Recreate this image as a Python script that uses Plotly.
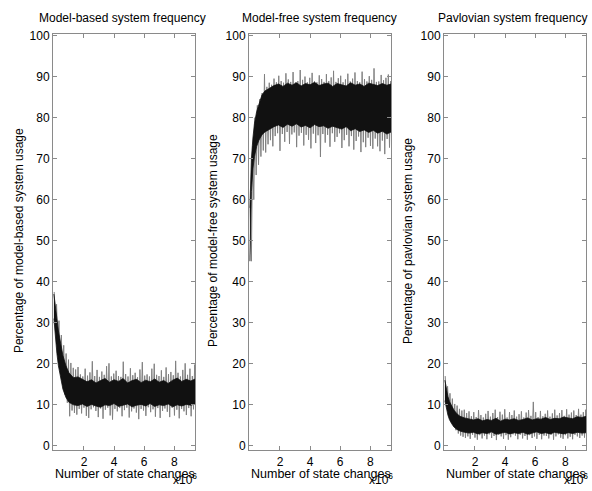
import numpy as np
import plotly.graph_objects as go

# ---------------- data (x in units of 10^6 state changes) ----------------
titles = ["Model-based system frequency", "Model-free system frequency", "Pavlovian system frequency"]
ylabels = ["Percentage of model-based system usage", "Percentage of model-free system usage",
           "Percentage of pavlovian system usage"]
xlabel = "Number of state changes"
x_ticks = [2, 4, 6, 8]
y_ticks = [0, 10, 20, 30, 40, 50, 60, 70, 80, 90, 100]

# sample positions for the noisy extremes (peaks and troughs)
spike_x = np.linspace(0.02, 9.36, 60)

mb_spike_hi = [37.5, 34.5, 30.5, 27.0, 24.5, 22.5, 21.0, 20.2, 19.0, 18.6,
               19.2, 17.4, 16.9, 18.8, 17.1, 17.9, 20.6, 17.0, 18.5, 16.8,
               18.1, 17.3, 19.4, 20.1, 16.9, 17.6, 18.3, 17.0, 16.8, 20.5,
               17.5, 16.9, 18.9, 17.2, 17.8, 16.7, 18.6, 20.4, 17.1, 17.4,
               16.9, 18.8, 20.0, 17.3, 17.0, 18.4, 16.8, 19.1, 17.5, 18.0,
               17.2, 20.7, 17.8, 16.9, 18.5, 20.1, 17.3, 18.8, 17.0, 19.8]
mb_spike_lo = [29.5, 24.0, 19.0, 15.5, 12.5, 10.5, 7.2, 8.6, 8.0, 7.6,
               9.0, 7.9, 9.3, 7.3, 6.8, 8.9, 9.4, 8.5, 7.0, 9.1,
               6.6, 8.8, 9.3, 7.4, 6.4, 9.0, 8.4, 9.2, 7.2, 8.7,
               9.3, 6.9, 8.4, 9.1, 8.1, 6.5, 9.0, 8.6, 7.3, 9.4,
               8.2, 8.9, 7.1, 9.2, 6.8, 8.5, 9.1, 8.3, 7.0, 9.3,
               7.4, 8.8, 6.7, 9.0, 8.4, 7.5, 9.2, 7.2, 8.9, 7.6]

mf_spike_hi = [58.0, 73.0, 80.0, 83.0, 84.5, 86.0, 90.6, 87.5, 88.5, 88.0,
               89.5, 88.6, 90.2, 88.9, 88.5, 90.8, 89.3, 88.7, 91.1, 88.6,
               88.9, 91.6, 89.2, 90.0, 88.6, 89.7, 90.9, 88.8, 88.6, 90.3,
               89.4, 88.7, 90.6, 88.9, 89.8, 91.4, 88.7, 89.6, 90.2, 88.6,
               89.3, 90.7, 88.8, 89.5, 91.0, 88.9, 88.6, 91.2, 89.4, 88.8,
               90.1, 89.2, 92.0, 88.7, 88.8, 90.4, 89.1, 89.7, 90.5, 88.9]
mf_spike_lo = [45.0, 60.0, 66.0, 68.5, 70.5, 72.0, 71.5, 73.5, 74.5, 73.0,
               75.5, 76.2, 71.9, 76.0, 74.1, 76.5, 73.6, 75.9, 76.4, 72.8,
               75.6, 76.3, 73.2, 75.8, 74.6, 72.5, 76.1, 73.8, 75.7, 70.4,
               76.0, 73.9, 75.8, 72.9, 76.2, 74.1, 75.3, 76.2, 72.6, 74.5,
               75.8, 73.0, 75.5, 72.2, 74.3, 75.4, 71.6, 74.0, 72.8, 75.1,
               73.1, 72.4, 74.9, 73.0, 71.8, 74.4, 71.1, 74.8, 72.7, 73.9]

pv_spike_hi = [17.0, 14.5, 12.8, 11.5, 10.2, 9.8, 9.0, 8.6, 8.8, 8.0,
               8.4, 7.2, 8.2, 7.0, 8.7, 7.5, 6.9, 7.8, 8.5, 7.1,
               8.0, 8.8, 7.0, 8.3, 7.6, 8.9, 6.9, 8.2, 7.5, 8.6,
               7.1, 7.7, 8.4, 6.9, 8.1, 8.7, 7.3, 10.7, 8.2, 7.0,
               8.5, 7.2, 7.8, 8.6, 7.1, 7.9, 8.8, 7.4, 8.0, 8.7,
               7.3, 8.9, 7.6, 8.1, 8.6, 7.5, 9.0, 7.6, 8.2, 8.8]
pv_spike_lo = [10.5, 7.8, 6.2, 4.8, 3.8, 3.0, 2.5, 2.2, 1.9, 2.3,
               1.7, 2.7, 2.0, 1.5, 2.6, 1.8, 2.5, 1.6, 2.8, 1.9,
               2.4, 1.4, 2.7, 2.3, 1.7, 2.6, 1.5, 2.1, 2.8, 2.5,
               1.6, 2.7, 1.8, 2.4, 1.5, 2.6, 1.9, 2.3, 1.7, 2.7,
               1.6, 2.5, 2.4, 1.8, 2.7, 1.5, 2.3, 2.8, 2.0, 1.7,
               2.6, 1.8, 2.2, 1.6, 2.7, 2.3, 1.9, 2.5, 2.0, 2.2]

# dense core of the noisy band
core_x = [0.0, 0.1, 0.2, 0.3, 0.45, 0.6, 0.8, 1.0, 1.3, 1.6, 1.9, 2.2, 2.5, 2.8, 3.1, 3.4,
          3.7, 4.0, 4.3, 4.6, 4.9, 5.2, 5.5, 5.8, 6.1, 6.4, 6.7, 7.0, 7.3, 7.6, 7.9, 8.2,
          8.5, 8.8, 9.1, 9.4]
mb_core_hi = [37.0, 34.5, 31.0, 28.0, 24.5, 22.0, 19.5, 17.8, 16.6, 16.8, 16.2, 15.6, 16.1, 15.3,
              15.9, 16.4, 15.5, 16.1, 15.7, 16.4, 15.3, 15.9, 16.2, 15.4, 16.0, 15.6, 16.3, 15.5,
              15.9, 15.2, 16.0, 16.5, 15.7, 16.2, 15.8, 16.3]
mb_core_lo = [31.0, 26.5, 22.5, 19.5, 16.5, 13.8, 11.8, 10.6, 10.0, 9.8, 10.2, 9.6, 10.1, 9.7,
              9.4, 10.0, 9.8, 10.3, 9.6, 9.9, 10.2, 9.5, 9.9, 10.1, 9.7, 10.3, 9.6, 10.0,
              9.8, 10.2, 9.5, 10.0, 9.7, 10.1, 9.9, 10.2]
mf_core_hi = [58.0, 70.0, 75.0, 78.5, 81.5, 83.5, 85.5, 86.5, 87.2, 87.8, 88.2, 87.6, 88.4, 87.9,
              88.5, 87.7, 88.3, 88.0, 88.6, 87.8, 88.2, 88.4, 87.6, 88.3, 88.0, 87.7, 88.5, 87.9,
              88.2, 87.6, 88.4, 88.1, 87.8, 88.3, 87.9, 88.2]
mf_core_lo = [45.0, 62.0, 67.5, 70.5, 73.0, 74.5, 75.8, 76.5, 77.2, 77.8, 78.2, 77.6, 78.4, 77.9,
              78.5, 77.7, 78.1, 77.5, 78.3, 77.8, 78.0, 77.4, 77.9, 77.6, 77.2, 77.8, 76.8, 77.3,
              76.6, 77.0, 76.4, 76.9, 76.2, 76.7, 76.0, 76.5]
pv_core_hi = [16.0, 13.5, 12.0, 10.8, 9.6, 8.7, 7.8, 7.2, 6.8, 6.5, 6.3, 6.6, 6.1, 6.4,
              6.2, 6.7, 6.0, 6.5, 6.3, 6.6, 6.2, 6.4, 6.8, 6.3, 6.6, 6.5, 6.9, 6.4,
              6.7, 6.6, 7.0, 6.8, 6.6, 7.1, 6.9, 7.2]
pv_core_lo = [11.0, 9.0, 7.5, 6.4, 5.4, 4.6, 4.0, 3.6, 3.3, 3.1, 3.3, 2.9, 3.2, 3.0,
              3.4, 2.8, 3.1, 3.3, 2.9, 3.2, 3.0, 3.3, 2.8, 3.1, 3.4, 3.0, 3.2, 2.9,
              3.3, 3.1, 2.9, 3.2, 3.0, 3.3, 3.1, 3.2]

series = [
    (mb_spike_hi, mb_spike_lo, mb_core_hi, mb_core_lo),
    (mf_spike_hi, mf_spike_lo, mf_core_hi, mf_core_lo),
    (pv_spike_hi, pv_spike_lo, pv_core_hi, pv_core_lo),
]

# ---------------- layout geometry ----------------
W, H = 592, 491
panels_px = [(53, 195), (249, 391), (444, 586)]
top_px, bot_px = 29.6, 452.7
FONT = "Liberation Sans, Arial, sans-serif"
FS = 12
AXCOL = "#8a8a8a"

fig = go.Figure()
step = spike_x[1] - spike_x[0]

for i, (shi, slo, chi, clo) in enumerate(series):
    xa = "x" if i == 0 else f"x{i+1}"
    ya = "y" if i == 0 else f"y{i+1}"
    zx, zy = [], []
    for k in range(len(spike_x)):
        zx += [spike_x[k], spike_x[k] + step / 2]
        zy += [shi[k], slo[k]]
    fig.add_trace(go.Scatter(x=zx, y=zy, mode="lines", line=dict(color="#808080", width=1),
                             xaxis=xa, yaxis=ya, showlegend=False, hoverinfo="skip"))
    fig.add_trace(go.Scatter(x=core_x + core_x[::-1], y=chi + clo[::-1], mode="lines",
                             fill="toself", fillcolor="#111111",
                             line=dict(color="#111111", width=0.8),
                             xaxis=xa, yaxis=ya, showlegend=False, hoverinfo="skip"))

layout = dict(
    width=W, height=H, margin=dict(l=0, r=0, t=0, b=0),
    paper_bgcolor="white", plot_bgcolor="white",
    font=dict(family=FONT, size=FS, color="black"),
    showlegend=False,
)
annotations = []
ybot = 1 - bot_px / H
ytop = 1 - top_px / H
title_cx = [123, 319, 512]
ylabel_cx = [19, 213, 408]
for i, (l, r) in enumerate(panels_px):
    sx = "" if i == 0 else str(i + 1)
    layout[f"xaxis{sx}"] = dict(
        domain=[l / W, r / W], range=[-0.06, 9.38], anchor=f"y{sx}",
        tickvals=x_ticks, ticktext=[str(v) for v in x_ticks],
        ticks="inside", ticklen=4, tickcolor=AXCOL, tickwidth=1,
        showline=True, linecolor=AXCOL, linewidth=1, mirror="ticks",
        showgrid=False, zeroline=False, tickfont=dict(size=FS, family=FONT, color="black"),
    )
    layout[f"yaxis{sx}"] = dict(
        domain=[ybot, ytop], range=[-1.1, 100.35], anchor=f"x{sx}",
        tickvals=y_ticks, ticktext=[str(v) for v in y_ticks],
        ticks="inside", ticklen=4, tickcolor=AXCOL, tickwidth=1,
        showline=True, linecolor=AXCOL, linewidth=1, mirror="ticks",
        showgrid=False, zeroline=False, tickfont=dict(size=FS, family=FONT, color="black"),
    )
    cx = (l + r) / 2
    annotations.append(dict(text=titles[i], x=title_cx[i] / W, y=1 - 13 / H, xref="paper", yref="paper",
                            xanchor="center", yanchor="middle", showarrow=False,
                            font=dict(size=FS, family=FONT, color="black")))
    annotations.append(dict(text=ylabels[i], x=ylabel_cx[i] / W, y=1 - 240 / H, xref="paper", yref="paper",
                            xanchor="center", yanchor="middle", textangle=-90, showarrow=False,
                            font=dict(size=FS, family=FONT, color="black")))
    annotations.append(dict(text=xlabel, x=(cx + 1) / W, y=1 - 477 / H, xref="paper", yref="paper",
                            xanchor="center", yanchor="middle", showarrow=False,
                            font=dict(size=12.5, family=FONT, color="black")))
    annotations.append(dict(text="x10<sup>6</sup>", x=(r + 4) / W, y=1 - 482 / H, xref="paper", yref="paper",
                            xanchor="right", yanchor="middle", showarrow=False,
                            font=dict(size=FS, family=FONT, color="black")))
layout["annotations"] = annotations
fig.update_layout(**layout)
fig.write_html("out.html", config={"displayModeBar": False},
               post_script="document.body.style.margin='0';document.body.style.overflow='hidden';")
